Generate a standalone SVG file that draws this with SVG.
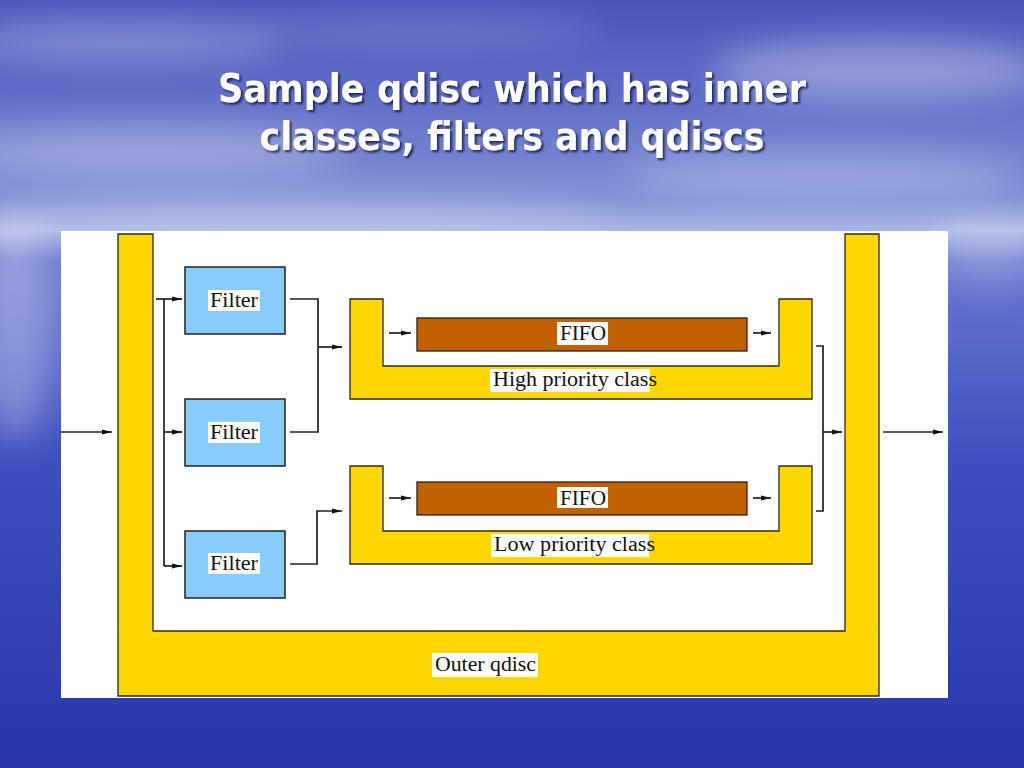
<svg xmlns="http://www.w3.org/2000/svg" width="1024" height="768" viewBox="0 0 1024 768">
<defs>
<linearGradient id="sky" x1="0" y1="0" x2="0" y2="1">
<stop offset="0" stop-color="#4a54bb"/>
<stop offset="0.12" stop-color="#5f6cc6"/>
<stop offset="0.26" stop-color="#8190d6"/>
<stop offset="0.30" stop-color="#aab6e6"/>
<stop offset="0.34" stop-color="#6a78d0"/>
<stop offset="0.6" stop-color="#3f4fbf"/>
<stop offset="1" stop-color="#2a36aa"/>
</linearGradient>
<filter id="blur" x="-50%" y="-50%" width="200%" height="200%"><feGaussianBlur stdDeviation="18"/></filter>
<filter id="shadow" x="-10%" y="-20%" width="120%" height="150%"><feDropShadow dx="2" dy="2" stdDeviation="1" flood-color="#101040" flood-opacity="0.8"/></filter>
<marker id="ah" viewBox="0 0 10 7" refX="10" refY="3.5" markerWidth="10" markerHeight="7" markerUnits="userSpaceOnUse" orient="auto">
<path d="M0,1 L10,3.5 L0,6 z" fill="#111"/>
</marker>
<style>
.yel{fill:#ffd700;stroke:#2a2a10;stroke-width:1.3}
.flt{fill:#88ccfc;stroke:#222;stroke-width:1.5}
.fifo{fill:#c26100;stroke:#222;stroke-width:1.3}
.lab{font-family:"Liberation Serif","Times New Roman",serif;font-size:20px;fill:#111}
.lbg{fill:#ffffff}
.con{fill:none;stroke:#222;stroke-width:1.7}
.arr{marker-end:url(#ah)}
.title{font-family:"DejaVu Sans","Liberation Sans",sans-serif;font-weight:bold;font-size:39px;fill:#ffffff}
</style>
</defs>
<!-- background -->
<rect x="0" y="0" width="1024" height="768" fill="url(#sky)"/>
<g filter="url(#blur)" fill="#ffffff">
<ellipse cx="120" cy="40" rx="160" ry="20" opacity="0.3"/>
<ellipse cx="420" cy="30" rx="180" ry="14" opacity="0.2"/>
<ellipse cx="880" cy="70" rx="170" ry="30" opacity="0.35"/>
<ellipse cx="150" cy="150" rx="200" ry="25" opacity="0.3"/>
<ellipse cx="820" cy="175" rx="200" ry="25" opacity="0.25"/>
<ellipse cx="300" cy="215" rx="320" ry="14" opacity="0.35"/>
<ellipse cx="15" cy="330" rx="40" ry="110" opacity="0.3"/>
<ellipse cx="990" cy="250" rx="60" ry="30" opacity="0.25"/>
</g>
<!-- title -->
<g id="title" filter="url(#shadow)">
<text class="title" x="512" y="102" text-anchor="middle" textLength="588" lengthAdjust="spacingAndGlyphs">Sample qdisc which has inner</text>
<text class="title" x="512" y="150" text-anchor="middle" textLength="505" lengthAdjust="spacingAndGlyphs">classes, filters and qdiscs</text>
</g>
<!-- white panel -->
<rect x="61" y="231" width="887" height="467" fill="#ffffff"/>
<!-- outer qdisc -->
<g id="outer-qdisc">
<path class="yel" d="M118,234 H153 V631 H845 V234 H879 V696 H118 Z"/>
<rect class="lbg" x="432" y="653" width="106" height="24"/>
<text class="lab" x="435" y="671" textLength="101" lengthAdjust="spacingAndGlyphs">Outer qdisc</text>
</g>
<!-- filters -->
<g id="filter1">
<rect class="flt" x="185" y="267" width="100" height="67"/>
<rect class="lbg" x="208" y="290" width="52" height="21"/>
<text class="lab" x="210" y="307" textLength="48" lengthAdjust="spacingAndGlyphs">Filter</text>
</g>
<g id="filter2">
<rect class="flt" x="185" y="399" width="100" height="67"/>
<rect class="lbg" x="208" y="422" width="52" height="21"/>
<text class="lab" x="210" y="439" textLength="48" lengthAdjust="spacingAndGlyphs">Filter</text>
</g>
<g id="filter3">
<rect class="flt" x="185" y="531" width="100" height="67"/>
<rect class="lbg" x="208" y="553" width="52" height="21"/>
<text class="lab" x="210" y="570" textLength="48" lengthAdjust="spacingAndGlyphs">Filter</text>
</g>
<!-- high priority class -->
<g id="high-class">
<path class="yel" d="M350,299 H383 V366 H779 V299 H812 V399 H350 Z"/>
<rect class="lbg" x="490" y="369" width="160" height="23"/>
<text class="lab" x="493" y="386" textLength="164" lengthAdjust="spacingAndGlyphs">High priority class</text>
</g>
<g id="fifo-high">
<rect class="fifo" x="417" y="318" width="330" height="33"/>
<rect class="lbg" x="557" y="322" width="51" height="23"/>
<text class="lab" x="560" y="340" textLength="46" lengthAdjust="spacingAndGlyphs">FIFO</text>
</g>
<!-- low priority class -->
<g id="low-class">
<path class="yel" d="M350,466 H383 V531 H779 V466 H812 V564 H350 Z"/>
<rect class="lbg" x="491" y="534" width="158" height="23"/>
<text class="lab" x="494" y="551" textLength="161" lengthAdjust="spacingAndGlyphs">Low priority class</text>
</g>
<g id="fifo-low">
<rect class="fifo" x="417" y="482" width="330" height="33"/>
<rect class="lbg" x="557" y="487" width="51" height="21"/>
<text class="lab" x="560" y="505" textLength="46" lengthAdjust="spacingAndGlyphs">FIFO</text>
</g>
<!-- connectors -->
<g id="connectors">
<line class="con arr" x1="61" y1="432" x2="112" y2="432"/>
<path class="con" d="M164,299 V566"/>
<line class="con arr" x1="156" y1="299" x2="182" y2="299"/>
<line class="con arr" x1="164" y1="432" x2="182" y2="432"/>
<path class="con arr" d="M164,566 H182"/>
<path class="con" d="M290,299 H318 V432 H290"/>
<line class="con arr" x1="318" y1="347" x2="342" y2="347"/>
<path class="con arr" d="M290,564 H317 V511 H342"/>
<line class="con arr" x1="389" y1="333" x2="411" y2="333"/>
<line class="con arr" x1="753" y1="333" x2="771" y2="333"/>
<line class="con arr" x1="389" y1="498" x2="411" y2="498"/>
<line class="con arr" x1="753" y1="498" x2="771" y2="498"/>
<path class="con" d="M816,346 H823 V511 H816"/>
<line class="con arr" x1="823" y1="432" x2="842" y2="432"/>
<line class="con arr" x1="883" y1="432" x2="943" y2="432"/>
</g>
</svg>
